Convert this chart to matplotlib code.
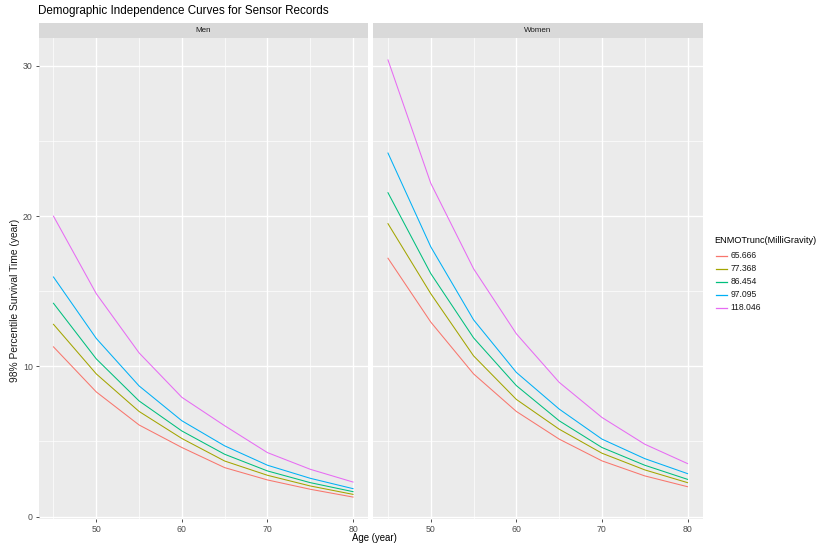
import matplotlib
matplotlib.use("Agg")
import matplotlib.pyplot as plt
from matplotlib.lines import Line2D

plt.rcParams["font.family"] = ["Liberation Sans", "DejaVu Sans"]

ages = [45, 50, 55, 60, 65, 70, 75, 80]
enmo_levels = ["65.666", "77.368", "86.454", "97.095", "118.046"]
colors = ["#F8766D", "#A3A500", "#00BF7D", "#00B0F6", "#E76BF3"]

men_65_666 = [11.3, 8.3, 6.1, 4.6, 3.26, 2.44, 1.82, 1.3]
men_77_368 = [12.8, 9.5, 7.0, 5.2, 3.7, 2.75, 2.04, 1.48]
men_86_454 = [14.2, 10.5, 7.7, 5.7, 4.15, 3.04, 2.26, 1.66]
men_97_095 = [15.95, 11.86, 8.7, 6.38, 4.71, 3.42, 2.55, 1.86]
men_118_046 = [20.0, 14.84, 10.9, 7.94, 6.05, 4.26, 3.15, 2.3]

women_65_666 = [17.2, 12.95, 9.5, 7.0, 5.16, 3.71, 2.71, 1.99]
women_77_368 = [19.5, 14.84, 10.7, 7.8, 5.82, 4.22, 3.11, 2.26]
women_86_454 = [21.56, 16.18, 11.9, 8.72, 6.38, 4.6, 3.42, 2.48]
women_97_095 = [24.2, 17.96, 13.1, 9.6, 7.16, 5.16, 3.86, 2.86]
women_118_046 = [30.4, 22.19, 16.5, 12.17, 8.94, 6.6, 4.82, 3.53]

panels = {
    "Men": [men_65_666, men_77_368, men_86_454, men_97_095, men_118_046],
    "Women": [women_65_666, women_77_368, women_86_454, women_97_095, women_118_046],
}

W, H = 819, 544
fig = plt.figure(figsize=(W / 100, H / 100), dpi=100)
fig.patch.set_facecolor("white")

text_grey = "#4D4D4D"
panel_left = {"Men": 38.5, "Women": 373}
panel_w = 329.5
panel_top, panel_bottom = 38, 519
strip_top = 22.7

xlim = (43.25, 81.75)
ylim = (-0.16, 31.86)

for name, series in panels.items():
    x0 = panel_left[name]
    ax = fig.add_axes([x0 / W, 1 - panel_bottom / H, panel_w / W,
                       (panel_bottom - panel_top) / H])
    ax.set_facecolor("#EBEBEB")
    for s in ax.spines.values():
        s.set_visible(False)
    ax.set_xlim(*xlim)
    ax.set_ylim(*ylim)
    for v in [45, 55, 65, 75]:
        ax.axvline(v, color="white", lw=0.5, zorder=0)
    for v in [50, 60, 70, 80]:
        ax.axvline(v, color="white", lw=1.0, zorder=0)
    for v in [5, 15, 25]:
        ax.axhline(v, color="white", lw=0.5, zorder=0)
    for v in [0, 10, 20, 30]:
        ax.axhline(v, color="white", lw=1.0, zorder=0)
    for vals, c in zip(series, colors):
        ax.plot(ages, vals, color=c, lw=0.75, zorder=2)
    ax.set_xticks([50, 60, 70, 80])
    ax.set_xticklabels(["50", "60", "70", "80"])
    ax.set_yticks([0, 10, 20, 30])
    ax.tick_params(axis="both", length=2.4, width=0.6, color="#333333",
                   labelcolor=text_grey, labelsize=6.3, pad=1.8)
    if name == "Men":
        ax.set_yticklabels(["0", "10", "20", "30"])
    else:
        ax.tick_params(axis="y", left=False, labelleft=False)

    # facet strip
    sax = fig.add_axes([x0 / W, 1 - panel_top / H, panel_w / W,
                        (panel_top - strip_top) / H])
    sax.set_facecolor("#D9D9D9")
    for s in sax.spines.values():
        s.set_visible(False)
    sax.set_xticks([])
    sax.set_yticks([])
    sax.text(0.5, 0.5, name, ha="center", va="center", fontsize=5.8,
             color="#1A1A1A", transform=sax.transAxes)

fig.text(38 / W, 1 - 11 / H, "Demographic Independence Curves for Sensor Records",
         ha="left", va="center", fontsize=8.4, color="black")
fig.text(374 / W, 1 - 538 / H, "Age (year)",
         ha="center", va="center", fontsize=6.9, color="black")
fig.text(15 / W, 1 - 300 / H, "98% Percentile Survival Time (year)",
         ha="center", va="center", rotation=90, fontsize=7.4, color="#1A1A1A")

# legend
fig.text(714 / W, 1 - 240.5 / H, "ENMOTrunc(MilliGravity)",
         ha="left", va="center", fontsize=6.6, color="black")
key_y = [255.5, 268.5, 281.5, 294.5, 307.5]
for lab, c, yk in zip(enmo_levels, colors, key_y):
    fig.add_artist(Line2D([716 / W, 727 / W], [1 - yk / H, 1 - yk / H],
                          color=c, lw=0.9, transform=fig.transFigure))
    fig.text(730.5 / W, 1 - yk / H, lab, ha="left", va="center",
             fontsize=6.2, color="#1A1A1A")

fig.savefig("out.png", dpi=100, facecolor="white")
